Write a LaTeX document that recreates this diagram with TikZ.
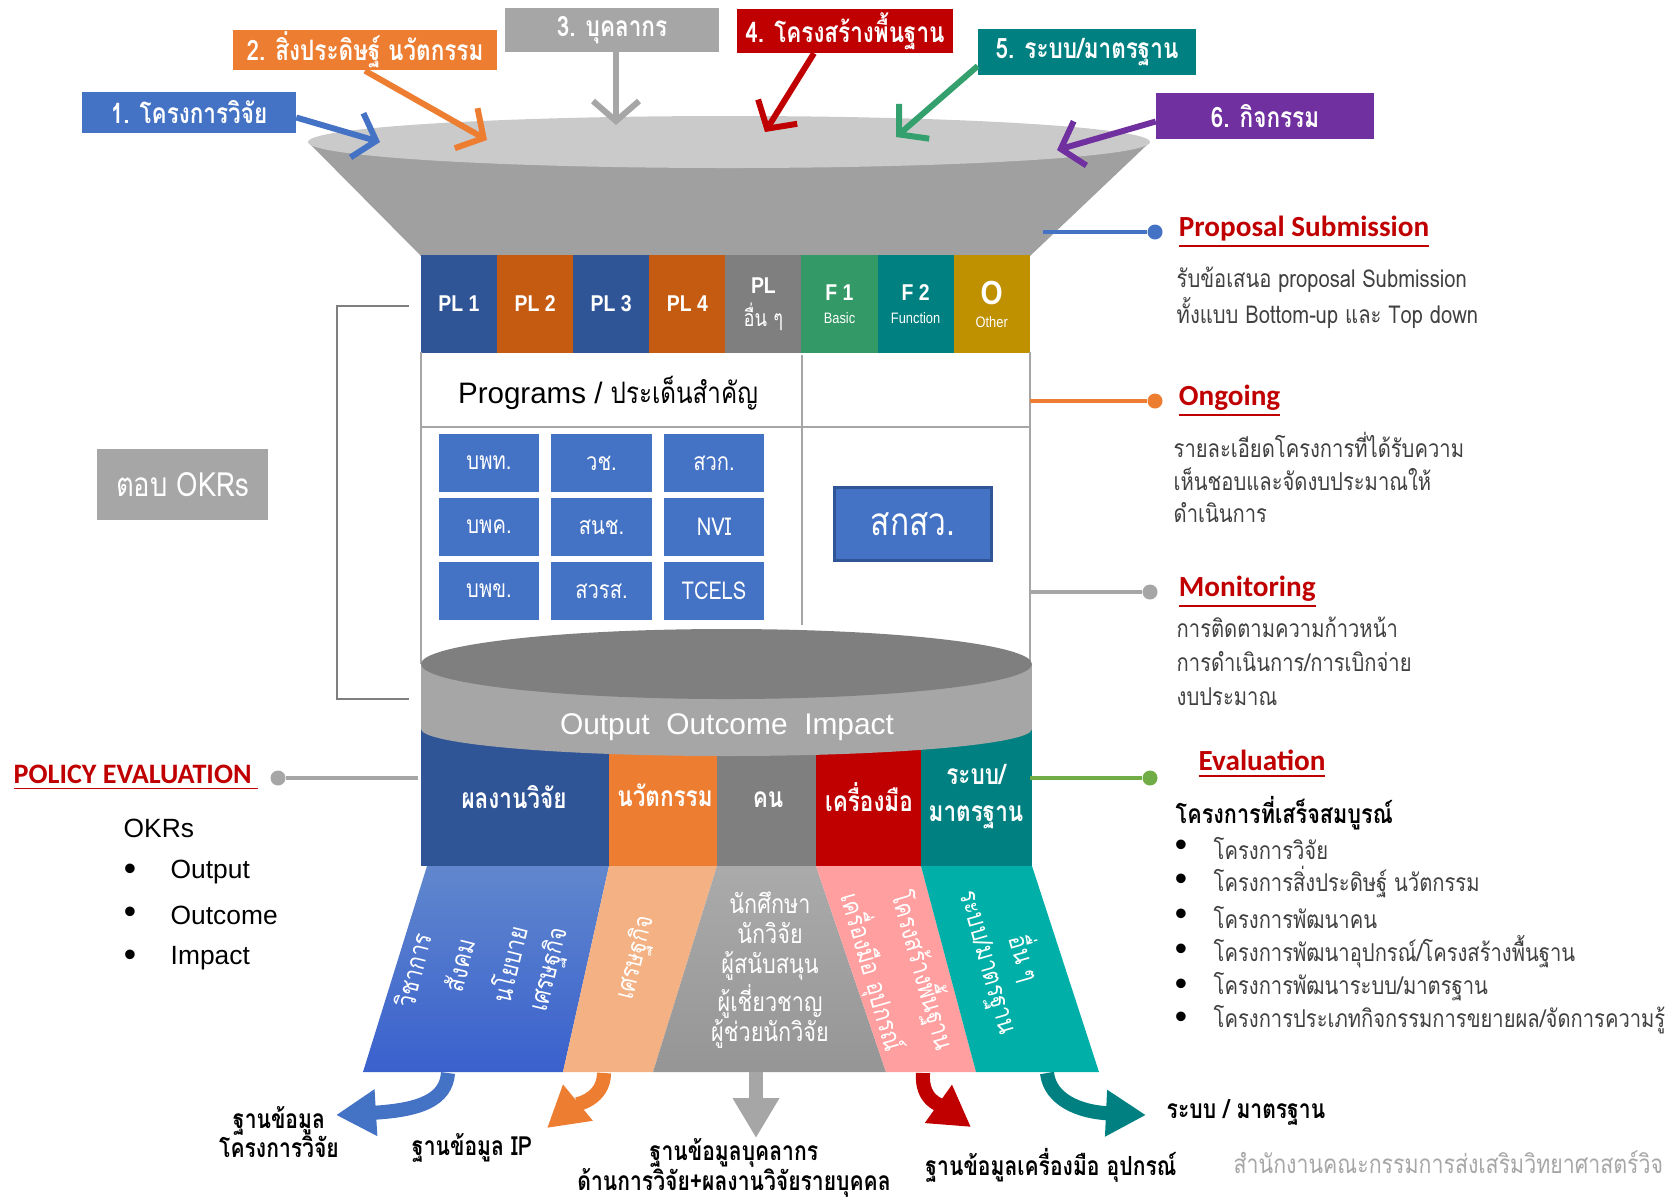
\documentclass[tikz,border=0pt]{standalone}
\usepackage{fontspec}
\setmainfont{Liberation Sans}
\newfontfamily\thb[Script=Thai,FakeStretch=0.8]{Loma}
\newfontfamily\thr[Script=Thai,FakeStretch=0.82]{Loma}
\newfontfamily\calfont{Carlito}
\newfontfamily\nar[FakeStretch=0.85]{Liberation Sans}
\usetikzlibrary{positioning, arrows.meta}
\definecolor{dblue}{RGB}{47,85,151}
\definecolor{mblue}{RGB}{68,114,196}
\definecolor{brown}{RGB}{197,90,17}
\definecolor{orange}{RGB}{237,125,49}
\definecolor{dgray}{RGB}{127,127,127}
\definecolor{lgray}{RGB}{166,166,166}
\definecolor{conegray}{RGB}{160,160,160}
\definecolor{rimgray}{RGB}{202,202,202}
\definecolor{fgreen}{RGB}{51,153,102}
\definecolor{teal}{RGB}{0,128,128}
\definecolor{gold}{RGB}{191,144,0}
\definecolor{dred}{RGB}{192,0,0}
\definecolor{purple}{RGB}{112,48,160}
\definecolor{arrgreen}{RGB}{52,160,110}
\definecolor{peach}{RGB}{244,177,131}
\definecolor{pink}{RGB}{255,159,159}
\definecolor{aqua}{RGB}{0,176,168}
\definecolor{lgreen}{RGB}{112,173,71}
\definecolor{txtgray}{RGB}{64,64,64}
\tikzstyle{topbox}=[rectangle, text=white, inner sep=0pt, font=\thb\bfseries\fontsize{8}{9}\selectfont]
\tikzstyle{inarrow}=[line width=1.7pt, -{Straight Barb[length=2mm,width=4.6mm]}]
\tikzstyle{plcell}=[rectangle, minimum width=.761cm, minimum height=.97cm, inner sep=0pt, text=white, align=center, font=\nar\bfseries\fontsize{6.5}{7.5}\selectfont]
\tikzstyle{prog}=[rectangle, fill=mblue, minimum width=1cm, minimum height=.58cm, inner sep=0pt, text=white, font=\thr\fontsize{7}{8}\selectfont]
\tikzstyle{barlabel}=[text=white, inner sep=0pt, align=center, font=\thb\bfseries\fontsize{8}{10.5}\selectfont]
\tikzstyle{traptext}=[text=white, inner sep=0pt, align=center, font=\thr\fontsize{7.5}{8.5}\selectfont]
\tikzstyle{head}=[inner sep=0pt, text=dred, font=\calfont\bfseries\fontsize{8.3}{9}\selectfont]
\tikzstyle{desc}=[anchor=west, inner sep=0pt, text=txtgray, font=\thr\fontsize{7}{8}\selectfont]
\tikzstyle{bul}=[inner sep=0pt, font=\fontsize{10}{10}\selectfont]
\tikzstyle{dot}=[circle, minimum size=.15cm, inner sep=0pt]
\tikzstyle{outarrow}=[line width=4pt, -{Triangle[length=4mm,width=4.4mm]}]
\tikzstyle{dblabel}=[inner sep=0pt, align=center, font=\thb\bfseries\fontsize{7.5}{8.5}\selectfont]

\begin{document}
\begin{tikzpicture}[x=0.01cm, y=-0.01cm]
  \useasboundingbox (0,0) rectangle (1673,1202);
  %funnel mouth
  \fill[conegray] (308,142) -- (1150,142) -- (1030,256) -- (421,256) -- cycle;
  \fill[rimgray] (729,142) ellipse [x radius=421, y radius=26];

  %inputs
  \node[topbox, fill=mblue, minimum width=2.13cm, minimum height=.41cm] (b1) at (189,112) {1. โครงการวิจัย};
  \node[topbox, fill=orange, minimum width=2.63cm, minimum height=.40cm] (b2) at (365,50) {2. สิ่งประดิษฐ์ นวัตกรรม};
  \node[topbox, fill=lgray, minimum width=2.14cm, minimum height=.43cm] (b3) at (612,30) {3. บุคลากร};
  \node[topbox, fill=dred, minimum width=2.15cm, minimum height=.43cm] (b4) at (845,31) {4. โครงสร้างพื้นฐาน};
  \node[topbox, fill=teal, minimum width=2.17cm, minimum height=.45cm] (b5) at (1087,52) {5. ระบบ/มาตรฐาน};
  \node[topbox, fill=purple, minimum width=2.17cm, minimum height=.45cm] (b6) at (1265,116) {6. กิจกรรม};
  \coordinate (t1) at (380,142);
  \coordinate (t2) at (487,140);
  \coordinate (t3) at (616,125);
  \coordinate (t4) at (765,132);
  \coordinate (t5) at (896,137);
  \coordinate (t6) at (1057,150);
  \draw[inarrow, mblue] ([yshift=-.55mm]b1.east) -- (t1);
  \draw[inarrow, orange] (b2.south) -- (t2);
  \draw[inarrow, lgray] (b3.south -| t3) -- (t3);
  \draw[inarrow, dred] ([xshift=-3.1mm]b4.south) -- (t4);
  \draw[inarrow, arrgreen] ([yshift=-1.4mm]b5.west) -- (t5);
  \draw[inarrow, purple] ([yshift=-.55mm]b6.west) -- (t6);

  %platforms
  \foreach \lab/\col [count=\i from 0] in {{PL 1}/dblue, {PL 2}/brown, {PL 3}/dblue, {PL 4}/brown,
      {PL\\[2pt]{\thb\mdseries อื่น ๆ}}/dgray,
      {F 1\\[-1pt]{\mdseries\fontsize{4.3}{5}\selectfont Basic}}/fgreen,
      {F 2\\[-1pt]{\mdseries\fontsize{4.3}{5}\selectfont Function}}/teal,
      {{\fontsize{9.5}{9.5}\selectfont O}\\[-1pt]{\mdseries\fontsize{4.3}{5}\selectfont Other}}/gold}
    \node[plcell, fill=\col] (pl\i) at ({459+76.1*\i}, 304) {\lab};

  %programs box
  \draw[lgray, line width=.8pt] (421,352) -- (421,664) (1030,352) -- (1030,664);
  \draw[lgray, line width=.6pt] (421,427) -- (1030,427) (802,355) -- (802,625);
  \node[font=\fontsize{8.4}{10}\selectfont] (ptitle) at (608,393) {Programs / {\thr ประเด็นสำคัญ}};
  \foreach \lab [count=\k from 0] in {บพท., วช., สวก., บพค., สนช., NVI, บพข., สวรส., TCELS}{
    \pgfmathtruncatemacro\cc{mod(\k,3)}
    \pgfmathtruncatemacro\rr{\k/3}
    \node[prog] (g\k) at ({489+112.5*\cc}, {463+64*\rr}) {\lab};
  }
  \node[prog, minimum width=1.57cm, minimum height=.73cm, draw=dblue, line width=1pt, font=\thr\fontsize{11}{12}\selectfont] (tsri) at (913,524) {สกสว.};

  %outputs
  \foreach \xa/\xb/\col in {421/609/dblue, 609/717/orange, 717/816/dgray, 816/921/dred, 921/1032/teal}
    \fill[\col] (\xa,700) rectangle (\xb,866);
  \fill[lgray] (421,664) rectangle (1032,729);
  \fill[lgray] (726.5,729) ellipse [x radius=305.5, y radius=27];
  \fill[dgray] (726.5,664) ellipse [x radius=305.5, y radius=35];
  \node[text=white, font=\fontsize{8.5}{10}\selectfont] (ooi) at (727,727) {Output\ \ Outcome\ \ Impact};
  \node[barlabel] (r1) at (514,797) {ผลงานวิจัย};
  \node[barlabel] (r2) at (665,795) {นวัตกรรม};
  \node[barlabel] (r3) at (768,800) {คน};
  \node[barlabel] (r4) at (869,797) {เครื่องมือ};
  \node[barlabel] (r5) at (976,797) {ระบบ/\\มาตรฐาน};

  %impact fan
  \shade[top color=mblue!85!white, bottom color=mblue!85!blue] (427,866) -- (609,866) -- (563,1072) -- (363,1072) -- cycle;
  \fill[peach] (609,866) -- (717,866) -- (653,1072) -- (563,1072) -- cycle;
  \shade[top color=lgray!95!white, bottom color=lgray!90!black] (717,866) -- (816,866) -- (886,1072) -- (653,1072) -- cycle;
  \fill[pink] (816,866) -- (921,866) -- (976,1072) -- (886,1072) -- cycle;
  \fill[aqua] (921,866) -- (1032,866) -- (1099,1072) -- (976,1072) -- cycle;
  \node[traptext, rotate=76] (f1) at (413,970) {วิชาการ};
  \node[traptext, rotate=76] (f2) at (459,965) {สังคม};
  \node[traptext, rotate=76] (f3) at (508,964) {นโยบาย};
  \node[traptext, rotate=76] (f4) at (550,970) {เศรษฐกิจ};
  \node[traptext, rotate=76] (f5) at (636,958) {เศรษฐกิจ};
  \node[traptext] (f6) at (770,970) {นักศึกษา\\นักวิจัย\\ผู้สนับสนุน\\ผู้เชี่ยวชาญ\\ผู้ช่วยนักวิจัย};
  \node[traptext, rotate=-74] (f7) at (873,972) {เครื่องมือ อุปกรณ์};
  \node[traptext, rotate=-74] (f8) at (924,970) {โครงสร้างพื้นฐาน};
  \node[traptext, rotate=-74] (f9) at (986,963) {ระบบ/มาตรฐาน};
  \node[traptext, rotate=-74] (f10) at (1026,958) {อื่น ๆ};

  %databases
  \coordinate (o1) at (448,1073);
  \coordinate (o2) at (604,1073);
  \coordinate (o3) at (756,1072);
  \coordinate (o4) at (923,1073);
  \coordinate (o5) at (1047,1073);
  \coordinate (e1) at (336,1115);
  \coordinate (e2) at (547,1128);
  \coordinate (e3) at (756,1138);
  \coordinate (e4) at (971,1127);
  \coordinate (e5) at (1146,1115);
  \draw[outarrow, mblue] (o1) .. controls (446,1100) and (420,1110) .. (e1);
  \draw[outarrow, orange] (o2) .. controls (604,1100) and (575,1105) .. (e2);
  \draw[outarrow, lgray] (o3) -- (e3);
  \draw[outarrow, dred] (o4) .. controls (921,1100) and (940,1105) .. (e4);
  \draw[outarrow, teal] (o5) .. controls (1050,1100) and (1080,1112) .. (e5);
  \node[dblabel] (l1) at (279,1132) {ฐานข้อมูล\\โครงการวิจัย};
  \node[dblabel] (l2) at (472,1148) {ฐานข้อมูล IP};
  \node[dblabel] (l3) at (734,1168) {ฐานข้อมูลบุคลากร\\ด้านการวิจัย+ผลงานวิจัยรายบุคคล};
  \node[dblabel] (l4) at (1051,1165) {ฐานข้อมูลเครื่องมือ อุปกรณ์};
  \node[dblabel, anchor=west] (l5) at (1166,1112) {ระบบ / มาตรฐาน};
  \node[anchor=west, inner sep=0pt, text=lgray, font=\thr\fontsize{7.4}{8}\selectfont] (foot) at (1233,1162) {สำนักงานคณะกรรมการส่งเสริมวิทยาศาสตร์วิจ};

  %stages
  \coordinate (c1) at (1043,232);
  \node[dot, fill=mblue] (d1) at (1155,232) {};
  \draw[mblue, line width=1.3pt] (c1) -- (d1);
  \node[head, right=.15cm of d1] (h1) {\underline{Proposal Submission}};
  \node[desc] (h1a) at (1176,280) {รับข้อเสนอ proposal Submission};
  \node[desc] (h1b) at (1176,313) {ทั้งแบบ Bottom-up และ Top down};

  \coordinate (c2) at (1030,401);
  \node[dot, fill=orange] (d2) at (1155,401) {};
  \draw[orange, line width=1.3pt] (c2) -- (d2);
  \node[head, right=.15cm of d2] (h2) {\underline{Ongoing}};
  \node[desc] (h2a) at (1173,445) {รายละเอียดโครงการที่ได้รับความ};
  \node[desc] (h2b) at (1173,479) {เห็นชอบและจัดงบประมาณให้};
  \node[desc] (h2c) at (1173,513) {ดำเนินการ};

  \coordinate (c3) at (1030,592);
  \node[dot, fill=lgray] (d3) at (1150,592) {};
  \draw[lgray, line width=1.3pt] (c3) -- (d3);
  \node[head, right=.2cm of d3] (h3) {\underline{Monitoring}};
  \node[desc] (h3a) at (1176,627) {การติดตามความก้าวหน้า};
  \node[desc] (h3b) at (1176,662) {การดำเนินการ/การเบิกจ่าย};
  \node[desc] (h3c) at (1176,697) {งบประมาณ};

  \coordinate (c4) at (1030,778);
  \node[dot, fill=lgreen] (d4) at (1150,778) {};
  \draw[lgreen, line width=1.3pt] (c4) -- (d4);
  \node[head, anchor=west] (h4) at (1198,764) {\underline{Evaluation}};
  \node[desc, text=black, font=\thr\bfseries\fontsize{7.5}{8}\selectfont] (h4a) at (1175,813) {โครงการที่เสร็จสมบูรณ์};
  \foreach \yy [count=\j] in {848, 882, 917, 952, 987, 1020}
    \node[bul] (eb\j) at (1181,\yy) {•};
  \node[desc] (ei1) at (1213,848) {โครงการวิจัย};
  \node[desc] (ei2) at (1213,882) {โครงการสิ่งประดิษฐ์ นวัตกรรม};
  \node[desc] (ei3) at (1213,917) {โครงการพัฒนาคน};
  \node[desc] (ei4) at (1213,952) {โครงการพัฒนาอุปกรณ์/โครงสร้างพื้นฐาน};
  \node[desc] (ei5) at (1213,987) {โครงการพัฒนาระบบ/มาตรฐาน};
  \node[desc] (ei6) at (1213,1020) {โครงการประเภทกิจกรรมการขยายผล/จัดการความรู้};

  %left side
  \draw[dgray, line width=.6pt] (409,306) -- (337,306) -- (337,699) -- (409,699);
  \node[fill=lgray, minimum width=1.71cm, minimum height=.71cm, text=white, font=\thr\fontsize{9.5}{10}\selectfont] (okr) at (182.5,484.5) {ตอบ OKRs};
  \node[head, anchor=west, font=\calfont\bfseries\fontsize{8}{9}\selectfont] (pe) at (13,778) {\underline{POLICY EVALUATION\ }};
  \node[dot, fill=lgray] (d5) at (278,778) {};
  \coordinate (c5) at (418,778);
  \draw[lgray, line width=1.3pt] (d5) -- (c5);
  \node[anchor=west, inner sep=0pt, font=\fontsize{7.5}{9}\selectfont] (okrs) at (123,828) {OKRs};
  \foreach \txt/\yy [count=\j] in {Output/872, Outcome/915, Impact/958}{
    \node[bul] (ob\j) at (130,\yy) {•};
    \node[anchor=west, inner sep=0pt, font=\fontsize{7.5}{9}\selectfont] (oi\j) at (170,\yy) {\txt};
  }
\end{tikzpicture}
\end{document}
